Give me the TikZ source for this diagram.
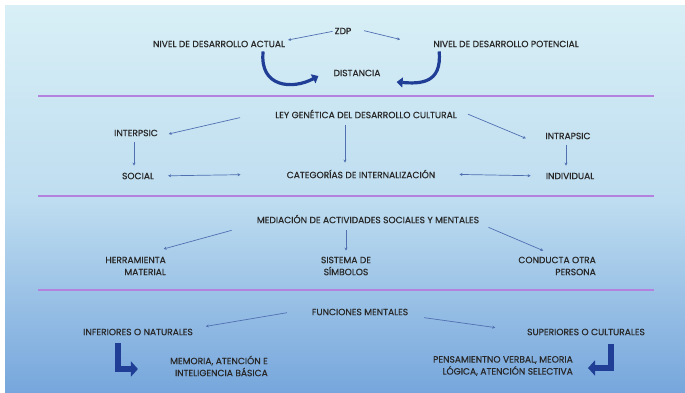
\documentclass[tikz,border=0pt]{standalone}
\usepackage{fontspec}
\setmainfont{Poppins}
\newfontfamily\rotulo{Poppins}[FakeBold=0.5]
\usetikzlibrary{arrows.meta,positioning}
\definecolor{texto}{RGB}{40,40,40}
\definecolor{flechaazul}{RGB}{80,112,178}
\definecolor{azuloscuro}{RGB}{32,62,150}
\definecolor{morado}{RGB}{178,130,222}
\definecolor{fondoalto}{RGB}{216,239,246}
\definecolor{fondomedio}{RGB}{190,221,240}
\definecolor{fondobajo}{RGB}{118,166,220}
\tikzset{
  etiqueta/.style={font=\rotulo\fontsize{9.1}{12}\selectfont, text=texto, inner sep=0pt},
  flecha/.style={draw=flechaazul, line width=0.7pt, -{Stealth[length=3pt,width=3pt]}},
  doble/.style={flecha, {Stealth[length=3pt,width=3pt]}-{Stealth[length=3pt,width=3pt]}},
  curva/.style={draw=azuloscuro, line width=3.2pt, -{Triangle[length=6pt,width=10pt]}},
  codo/.style={draw=azuloscuro, line width=6pt, line join=miter, -{Triangle[length=7pt,width=15pt]}},
  divisor/.style={draw=morado, line width=1.6pt}
}

\begin{document}
\begin{tikzpicture}[x=1pt,y=-1pt]
  \fill[white] (0,0) rectangle (685,393);
  \shade[top color=fondoalto, bottom color=fondobajo, middle color=fondomedio] (5,6) rectangle (685,393);
  \foreach \y in {96,196,290}
    \draw[divisor] (38,\y) -- (654,\y);

  % ZDP
  \node[etiqueta] (zdp) at (343,31) {ZDP};
  \node[etiqueta] (actual) at (219,44) {NIVEL DE DESARROLLO ACTUAL};
  \node[etiqueta] (potencial) at (506,44) {NIVEL DE DESARROLLO POTENCIAL};
  \node[etiqueta] (dist) at (357,73) {DISTANCIA};
  \draw[flecha, shorten <=2pt, shorten >=3pt] (zdp.west) -- (actual.north east);
  \draw[flecha, shorten <=13pt, shorten >=34pt] (zdp.north east) -- (potencial.south west);
  \draw[curva] ([xshift=-22pt,yshift=-4pt]actual.south east) .. controls +(-4,36) and +(-26,14) .. ([xshift=-15pt,yshift=-3pt]dist.west);
  \draw[curva] ([xshift=6pt,yshift=-4pt]potencial.south west) .. controls +(3,32) and +(24,2) .. ([xshift=16pt,yshift=-9pt]dist.east);

  % ley genetica
  \node[etiqueta] (ley) at (366,114) {LEY GENÉTICA DEL DESARROLLO CULTURAL};
  \node[etiqueta] (interpsic) at (136,133) {INTERPSIC};
  \node[etiqueta] (intrapsic) at (568,136) {INTRAPSIC};
  \node[etiqueta] (social) at (138,176) {SOCIAL};
  \node[etiqueta] (cat) at (361,174) {CATEGORÍAS DE INTERNALIZACIÓN};
  \node[etiqueta] (individual) at (570,176) {INDIVIDUAL};
  \draw[flecha, shorten <=36pt, shorten >=11pt] (ley.north west) -- (interpsic.south east);
  \draw[flecha, shorten <=12pt, shorten >=21pt] (ley.north east) -- ([yshift=-7pt]intrapsic.south west);
  \draw[flecha, shorten <=7pt, shorten >=7pt] ([xshift=-21pt]ley.south) -- ([xshift=-16pt]cat.north);
  \draw[flecha, shorten <=6pt, shorten >=7pt] ([xshift=-2pt]interpsic.south) -- ([xshift=-4pt]social.north);
  \draw[flecha, shorten <=6pt, shorten >=7pt] ([xshift=-2pt]intrapsic.south) -- ([xshift=-4pt]individual.north);
  \draw[doble, shorten <=14pt, shorten >=46pt] (social.east) -- (cat.west);
  \draw[doble, shorten <=24pt, shorten >=15pt] (cat.east) -- (individual.west);

  % mediacion
  \node[etiqueta] (mediacion) at (368,219) {MEDIACIÓN DE ACTIVIDADES SOCIALES Y MENTALES};
  \node[etiqueta, align=right, anchor=east] (herramienta) at (166,266) {HERRAMIENTA\\MATERIAL};
  \node[etiqueta, align=center] (sistema) at (346,266) {SISTEMA DE\\SÍMBOLOS};
  \node[etiqueta, align=right, anchor=east] (conducta) at (596,266) {CONDUCTA OTRA\\PERSONA};
  \draw[flecha, shorten <=26pt, shorten >=29pt] (mediacion.south west) -- (herramienta.north);
  \draw[flecha, shorten <=7pt, shorten >=6pt] (mediacion.south -| sistema.north) -- (sistema.north);
  \draw[flecha, shorten <=10pt, shorten >=15pt] (mediacion.south east) -- (conducta.north);

  % funciones mentales
  \node[etiqueta] (funciones) at (360,312) {FUNCIONES MENTALES};
  \node[etiqueta] (inferiores) at (138,332) {INFERIORES O NATURALES};
  \node[etiqueta] (superiores) at (586,332) {SUPERIORES O CULTURALES};
  \node[etiqueta, align=right, anchor=east] (memoria) at (268,366) {MEMORIA, ATENCIÓN E\\INTELIGENCIA BÁSICA};
  \node[etiqueta, align=right, anchor=east] (pensamiento) at (573,366) {PENSAMIENTNO VERBAL, MEORIA\\LÓGICA, ATENCIÓN SELECTIVA};
  \draw[flecha, shorten <=25pt, shorten >=13pt] (funciones.north west) -- (inferiores.north east);
  \draw[flecha, shorten <=16pt, shorten >=32pt] (funciones.south east) -- (superiores.west);
  \draw[codo] ([xshift=35pt,yshift=-8pt]inferiores.south west) |- ([xshift=-32pt,yshift=-3pt]memoria.west);
  \draw[codo] ([xshift=-34pt,yshift=-9pt]superiores.south east) |- ([xshift=15pt,yshift=-2pt]pensamiento.east);
\end{tikzpicture}
\end{document}
